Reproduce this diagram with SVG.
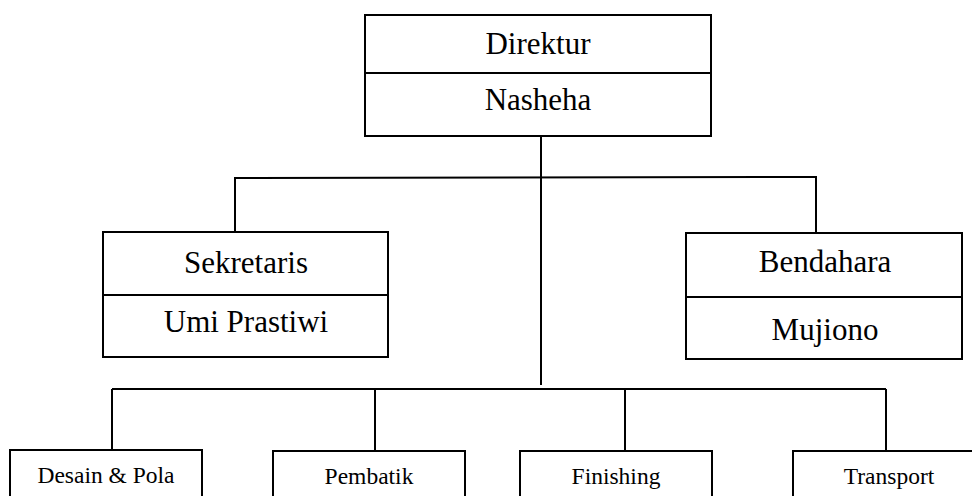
<svg xmlns="http://www.w3.org/2000/svg" width="972" height="496" viewBox="0 0 972 496">
<style>
.box{fill:#fff;stroke:#000;stroke-width:2}
.ln{fill:none;stroke:#000;stroke-width:2}
.t{font-family:"Liberation Serif","Times New Roman",serif;fill:#000;text-anchor:middle}
.big{font-size:31px}
.small{font-size:23.5px}
</style>
<rect width="972" height="496" fill="#fff"/>
<g id="connectors">
<line class="ln" x1="541" y1="136" x2="541" y2="385"/>
<polyline class="ln" points="235,232 235,178 816,177 816,232"/>
<line class="ln" x1="112" y1="389" x2="886" y2="389"/>
<line class="ln" x1="112" y1="389" x2="112" y2="450"/>
<line class="ln" x1="375" y1="389" x2="375" y2="450"/>
<line class="ln" x1="625" y1="389" x2="625" y2="450"/>
<line class="ln" x1="886" y1="389" x2="886" y2="450"/>
</g>
<g id="direktur">
<rect class="box" x="365" y="15" width="346" height="121"/>
<line class="ln" x1="365" y1="73" x2="711" y2="73"/>
<text class="t big" x="538" y="54">Direktur</text>
<text class="t big" x="538" y="110">Nasheha</text>
</g>
<g id="sekretaris">
<rect class="box" x="103" y="232" width="285" height="125"/>
<line class="ln" x1="103" y1="295" x2="388" y2="295"/>
<text class="t big" x="246" y="273">Sekretaris</text>
<text class="t big" x="246" y="332">Umi Prastiwi</text>
</g>
<g id="bendahara">
<rect class="box" x="686" y="233" width="276" height="126"/>
<line class="ln" x1="686" y1="297" x2="962" y2="297"/>
<text class="t big" x="825" y="272">Bendahara</text>
<text class="t big" x="825" y="340">Mujiono</text>
</g>
<g id="desain">
<rect class="box" x="10" y="450" width="192" height="60"/>
<text class="t small" x="106" y="483">Desain &amp; Pola</text>
</g>
<g id="pembatik">
<rect class="box" x="273" y="451" width="192" height="60"/>
<text class="t small" x="369" y="484">Pembatik</text>
</g>
<g id="finishing">
<rect class="box" x="520" y="451" width="192" height="60"/>
<text class="t small" x="616" y="484">Finishing</text>
</g>
<g id="transport">
<rect class="box" x="793" y="451" width="192" height="60"/>
<text class="t small" x="889" y="484">Transport</text>
</g>
</svg>
